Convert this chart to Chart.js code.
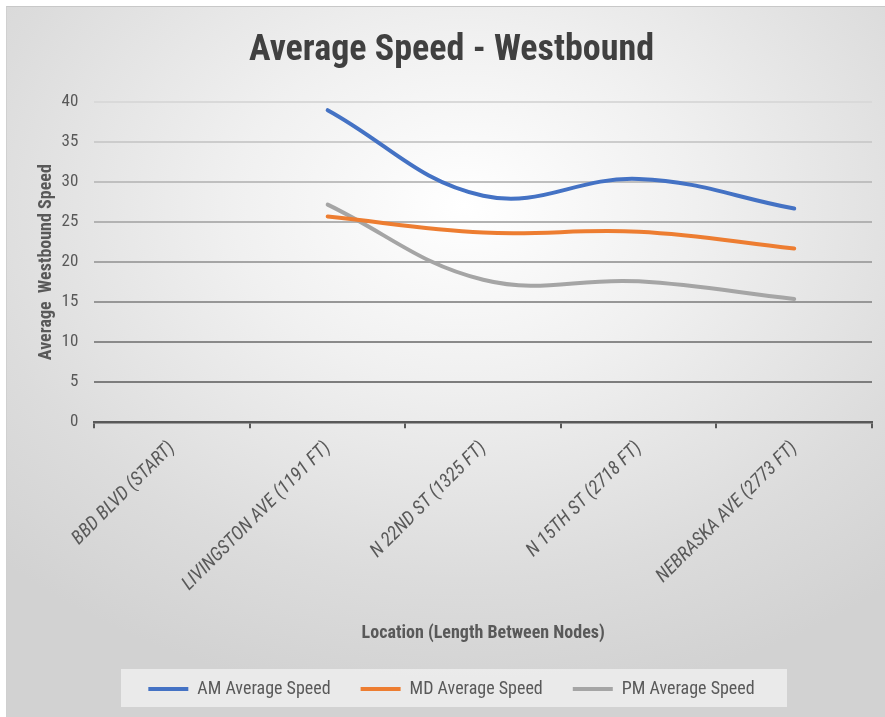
<!DOCTYPE html>
<html>
<head>
<meta charset="utf-8">
<script src="https://cdn.jsdelivr.net/npm/chart.js@4.4.1/dist/chart.umd.min.js"></script>
<style>
  html, body { margin: 0; padding: 0; background: #ffffff; }
  #frame {
    position: absolute; left: 6px; top: 6px; width: 879px; height: 711px;
    background: radial-gradient(ellipse 75% 70% at 52% 28%, #ffffff 0%, #f0f0f0 35%, #dcdcdc 75%, #d2d2d2 100%);
    border-top: 1px solid #c8c8c8; border-left: 1px solid #d0d0d0;
  }
  #wrap { position: absolute; left: -6px; top: -6px; width: 885px; height: 717px; }
</style>
</head>
<body>
<div id="frame"><div id="wrap"><canvas id="c" width="885" height="717"></canvas></div></div>
<script>
// Westbound corridor nodes and average speeds (mph) by period
const locations = [
  'BBD BLVD (START)',
  'LIVINGSTON AVE (1191 FT)',
  'N 22ND ST (1325 FT)',
  'N 15TH ST (2718 FT)',
  'NEBRASKA AVE (2773 FT)'
];
const amSpeed = [null, 39.0, 28.3, 30.4, 26.7];
const mdSpeed = [null, 25.7, 23.7, 23.8, 21.7];
const pmSpeed = [null, 27.2, 17.8, 17.6, 15.4];
const yTicks = [0, 5, 10, 15, 20, 25, 30, 35, 40];

const FONT = "'Liberation Sans Narrow', 'Roboto Condensed', 'Open Sans', sans-serif";
const TEXT = '#595959';

// light panel behind the legend
const legendPanel = {
  id: 'legendPanel',
  beforeDraw(chart) {
    const lg = chart.legend;
    if (!lg) return;
    const ctx = chart.ctx;
    ctx.save();
    ctx.fillStyle = 'rgba(242,242,242,0.75)';
    ctx.fillRect(120, 668, 666, 38);
    ctx.restore();
  }
};

// gridlines fade from darker near the baseline to light at the top
function gridShade(ctx) {
  const v = ctx.tick ? ctx.tick.value : 40;
  const g = Math.round(112 + (v / 40) * 105);
  return `rgb(${g},${g},${g})`;
}

function series(label, data, color) {
  return {
    label, data,
    borderColor: color, backgroundColor: color,
    borderWidth: 4, borderCapStyle: 'round',
    pointRadius: 0, pointHoverRadius: 0,
    tension: 0.4, cubicInterpolationMode: 'default', fill: false
  };
}

new Chart(document.getElementById('c'), {
  type: 'line',
  data: {
    labels: locations,
    datasets: [
      series('AM Average Speed', amSpeed, '#4472C4'),
      series('MD Average Speed', mdSpeed, '#ED7D31'),
      series('PM Average Speed', pmSpeed, '#A5A5A5')
    ]
  },
  plugins: [legendPanel],
  options: {
    responsive: false,
    animation: false,
    layout: { padding: { left: 30, right: 14, top: 8, bottom: 10 } },
    plugins: {
      title: {
        display: true,
        text: 'Average Speed - Westbound',
        color: '#404040',
        font: { family: FONT, size: 36, weight: 'bold' },
        padding: { top: 20, bottom: 30 }
      },
      legend: {
        position: 'bottom',
        labels: {
          color: TEXT,
          font: { family: FONT, size: 18 },
          boxWidth: 40, boxHeight: 4,
          padding: 30,
          generateLabels(chart) {
            return Chart.defaults.plugins.legend.labels.generateLabels(chart).map(l => ({ ...l, lineWidth: 0 }));
          }
        }
      },
      tooltip: { enabled: false }
    },
    scales: {
      x: {
        offset: true,
        grid: { offset: true, drawOnChartArea: false, drawTicks: true, tickLength: 6, color: '#595959', lineWidth: 2 },
        border: { color: '#595959', width: 2.5 },
        ticks: {
          color: TEXT, maxRotation: 45, minRotation: 45, autoSkip: false,
          font: { family: FONT, size: 19, style: 'italic' }, padding: 9
        },
        title: {
          display: true, text: 'Location (Length Between Nodes)', color: TEXT,
          font: { family: FONT, size: 18, weight: 'bold' }, padding: { top: 18, bottom: 6 }
        }
      },
      y: {
        min: 0, max: 40,
        afterBuildTicks(axis) { axis.ticks = yTicks.map(v => ({ value: v })); },
        grid: { color: gridShade, lineWidth: 2, drawTicks: false },
        border: { display: false },
        ticks: { color: TEXT, font: { family: FONT, size: 17 }, padding: 16 },
        title: {
          display: true, text: 'Average  Westbound Speed', color: TEXT,
          font: { family: FONT, size: 18, weight: 'bold' }, padding: { top: 5, bottom: -12 }
        }
      }
    }
  }
});
</script>
</body>
</html>
